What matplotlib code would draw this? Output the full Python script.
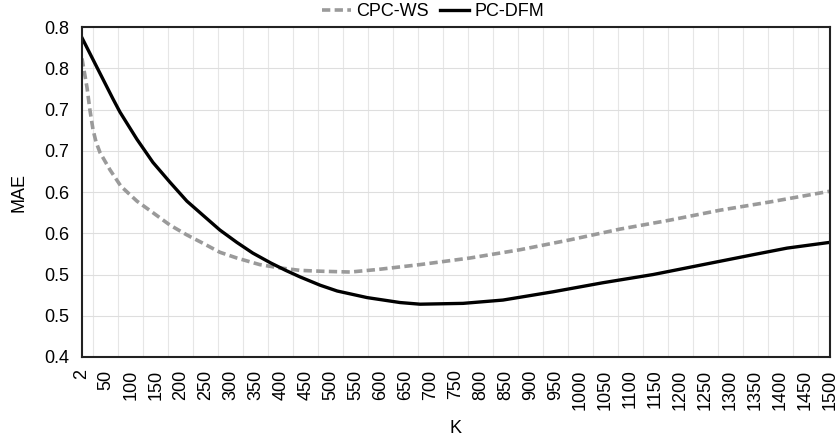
import numpy as np
import matplotlib
matplotlib.use('Agg')
import matplotlib.pyplot as plt

plt.rcParams['font.family'] = ['Liberation Sans', 'DejaVu Sans']

# values
k_dfm = [2, 38, 64, 78, 112, 144, 178, 212, 244, 278, 312, 344, 380, 410, 439, 479, 513,
         573, 639, 679, 765, 845, 945, 1045, 1146, 1246, 1346, 1414, 1500]
mae_dfm = [0.787, 0.744, 0.713, 0.697, 0.664, 0.636, 0.612, 0.589, 0.572, 0.554, 0.539,
           0.526, 0.514, 0.505, 0.497, 0.487, 0.480, 0.472, 0.466, 0.464, 0.465, 0.469,
           0.479, 0.490, 0.500, 0.512, 0.524, 0.532, 0.539]

k_ws = [2, 12, 18, 24, 30, 38, 58, 80, 112, 144, 178, 212, 244, 278, 312, 358, 398, 439,
        479, 539, 593, 679, 779, 879, 979, 1079, 1180, 1280, 1380, 1500]
mae_ws = [0.762, 0.727, 0.699, 0.676, 0.661, 0.648, 0.627, 0.607, 0.589, 0.575, 0.560,
          0.548, 0.538, 0.527, 0.520, 0.512, 0.508, 0.505, 0.504, 0.503, 0.506, 0.512,
          0.520, 0.530, 0.542, 0.555, 0.566, 0.578, 0.588, 0.601]

x_ticks = [2] + list(range(50, 1501, 50))
y_ticks = [0.4, 0.45, 0.5, 0.55, 0.6, 0.65, 0.7, 0.75, 0.8]
y_labels = ['0.4', '0.5', '0.5', '0.6', '0.6', '0.7', '0.7', '0.8', '0.8']
x_grid = list(range(25, 1500, 50))

fig = plt.figure(figsize=(8.4, 4.44), dpi=100)
ax = fig.add_axes([0.0976, 0.196, 0.8905, 0.743])

ax.plot(k_ws, mae_ws, color='#9a9a9a', lw=2.6, dashes=(2.3, 1.2), label='CPC-WS')
ax.plot(k_dfm, mae_dfm, color='black', lw=2.4, label='PC-DFM')

ax.set_xlim(2, 1500)
ax.set_ylim(0.4, 0.8)
ax.set_xticks(x_ticks)
ax.set_xticklabels([str(k) for k in x_ticks], rotation=90, fontsize=13)
ax.set_yticks(y_ticks)
ax.set_yticklabels(y_labels, fontsize=13)
ax.set_xticks(x_grid, minor=True)
ax.tick_params(axis='both', which='both', length=0, pad=9)

ax.grid(True, axis='y', color='#dedede', lw=0.8)
ax.grid(True, axis='x', which='minor', color='#e6e6e6', lw=0.8)
ax.set_axisbelow(True)
for s in ax.spines.values():
    s.set_color('#222222')
    s.set_linewidth(1.5)

ax.set_xlabel('K', fontsize=13, labelpad=7)
ax.set_ylabel('MAE', fontsize=13, labelpad=12)

fig.legend(loc='center', bbox_to_anchor=(433 / 840, 1 - 12 / 444), ncol=2, frameon=False,
           fontsize=13, handlelength=1.6, handletextpad=0.3, columnspacing=0.6)

fig.savefig('out.png', dpi=100)
